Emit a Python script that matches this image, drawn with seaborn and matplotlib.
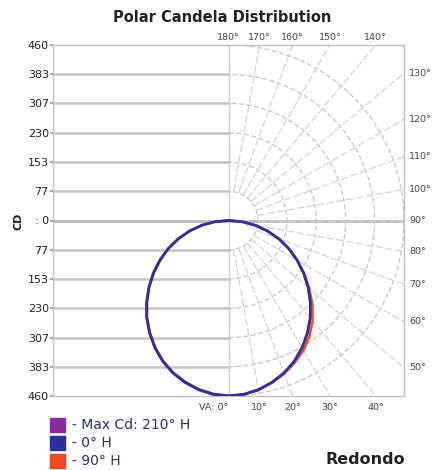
import numpy as np
import pandas as pd
import seaborn as sns
from matplotlib import pyplot as plt

# vertical angles (deg, 0 = straight down) and candela per horizontal plane
va_angles = [0, 5, 10, 15, 20, 25, 30, 35, 40, 45, 50, 55, 60, 65, 70, 75, 80, 85, 90]
cd_max_210 = [460, 458, 451, 440, 426, 408, 386, 361, 334, 304, 273, 241, 208, 175, 141, 106, 71, 35, 0]
cd_0h = [460, 457, 450, 439, 425, 407, 385, 360, 333, 303, 272, 240, 207, 174, 140, 105, 70, 35, 0]
cd_90h = [460, 458, 451, 440, 427, 411, 393, 370, 343, 311, 276, 242, 208, 175, 141, 106, 71, 35, 0]
# opposite side of each plane (shown on the left half)
cd_30h = [460, 458, 451, 440, 426, 408, 386, 361, 334, 304, 273, 241, 208, 175, 141, 106, 71, 35, 0]
cd_180h = [460, 457, 450, 439, 425, 407, 385, 360, 333, 303, 272, 240, 207, 174, 140, 105, 70, 35, 0]
cd_270h = [459, 456, 449, 438, 424, 406, 384, 359, 332, 302, 271, 239, 206, 173, 139, 104, 69, 34, 0]

series_names = ["- Max Cd: 210° H", "- 0° H", "- 90° H"]
series_colors = ["#8a2aa0", "#2e2e9e", "#f04a20"]

grid_values = [77, 153, 230, 307, 383, 460]
y_tick_values = [460, 383, 307, 230, 153, 77, 0, -77, -153, -230, -307, -383, -460]
y_tick_labels = ["460", "383", "307", "230", "153", "77", ": 0", "77", "153", "230", "307", "383", "460"]
top_angles = [180, 170, 160, 150, 140]
right_angles = [130, 120, 110, 100, 90, 80, 70, 60, 50]
bottom_angles = [0, 10, 20, 30, 40]
bottom_labels = ["VA: 0°", "10°", "20°", "30°", "40°"]

# build one path per plane: left side (opposite plane) then right side
rows = []
right_sets = [cd_max_210, cd_0h, cd_90h]
left_sets = [cd_30h, cd_180h, cd_270h]
a = np.radians(va_angles)
for name, cr, cl in zip(series_names, right_sets, left_sets):
    cr = np.array(cr, dtype=float)
    cl = np.array(cl, dtype=float)
    xs = np.concatenate([-(cl * np.sin(a))[::-1], (cr * np.sin(a))[1:]])
    ys = np.concatenate([-(cl * np.cos(a))[::-1], -(cr * np.cos(a))[1:]])
    for i, (x, y) in enumerate(zip(xs, ys)):
        rows.append({"plane": name, "order": i, "x": x, "y": y})
df = pd.DataFrame(rows)

sns.set_theme(style="white")
plt.rcParams['font.family'] = ['DejaVu Sans']

fig = plt.figure(figsize=(4.34, 4.70), dpi=100)
ax = fig.add_axes([53 / 434, 74 / 470, 351 / 434, 351 / 470])

R = 460
gcol = "#c4c4c4"

# left half: horizontal lines at each grid value
for r in grid_values[:-1]:
    ax.plot([-R, 0], [r, r], color=gcol, lw=1.8, zorder=1)
    ax.plot([-R, 0], [-r, -r], color=gcol, lw=1.8, zorder=1)
ax.plot([-R, R], [0, 0], color="#b8b8b8", lw=2, zorder=1)
ax.plot([0, 0], [-R, R], color="#cfcfcf", lw=0.9, zorder=1)

# right half: polar arcs and radial lines
phi = np.radians(np.linspace(0, 180, 200))
for r in grid_values:
    ax.plot(r * np.sin(phi), -r * np.cos(phi), color=gcol, lw=0.9,
            ls=(0, (4, 2)), zorder=1)
for ang in range(0, 181, 10):
    p = np.radians(ang)
    ax.plot([grid_values[0] * np.sin(p), 1000 * np.sin(p)],
            [-grid_values[0] * np.cos(p), -1000 * np.cos(p)],
            color="#d2d2d2", lw=0.9, ls=(0, (6, 2)), zorder=1)

# candela curves
sns.lineplot(data=df, x="x", y="y", hue="plane", units="plane", estimator=None,
             sort=False, palette=dict(zip(series_names, series_colors)),
             hue_order=[series_names[2], series_names[0], series_names[1]],
             lw=1.8, legend=False, ax=ax, zorder=3)

ax.set_xlim(-R, R)
ax.set_ylim(-R, R)
ax.set_xticks([])
ax.set_yticks(y_tick_values)
ax.set_yticklabels(y_tick_labels, fontsize=8, color="#222222")
ax.tick_params(axis="y", length=2, pad=1, color="#999999", left=True)
ax.set_xlabel("")
ax.set_ylabel("")
for s in ax.spines.values():
    s.set_color("#c0c0c0")
    s.set_linewidth(1)

lab_col = "#444444"
for ang in top_angles:
    ax.text(R * np.tan(np.radians(180 - ang)), R + 8, f"{ang}°", ha="center",
            va="bottom", fontsize=6.8, color=lab_col, clip_on=False)
for ang in right_angles:
    p = np.radians(ang)
    ax.text(R + 14, -R * np.cos(p) / np.sin(p), f"{ang}°", ha="left",
            va="center", fontsize=6.8, color=lab_col, clip_on=False)
for ang, lab in zip(bottom_angles, bottom_labels):
    x = R * np.tan(np.radians(ang))
    ax.text(x, -R - 18, lab, ha="right" if ang == 0 else "center", va="top",
            fontsize=6.8, color=lab_col, clip_on=False)

fig.text(18 / 434, 1 - 221 / 470, "CD", rotation=90, ha="center", va="center",
         fontsize=8, fontweight="bold", color="#222222")

fig.text(222 / 434, 1 - 18 / 470, "Polar Candela Distribution", ha="center",
         va="center", fontsize=10.5, fontweight="bold", color="#222222")

# legend
for i, (name, col) in enumerate(zip(series_names, series_colors)):
    yc = 1 - (425 + 18 * i) / 470
    fig.patches.append(plt.Rectangle((50 / 434, yc - 7 / 470), 15 / 434, 14 / 470,
                                     transform=fig.transFigure, color=col))
    fig.text(72 / 434, yc, name, ha="left", va="center", fontsize=10,
             color="#2e2e78")

fig.text(405 / 434, 1 - 460 / 470, "Redondo", ha="right", va="center",
         fontsize=11.5, fontweight="bold", color="#222222")

fig.savefig("out.png", dpi=100)
